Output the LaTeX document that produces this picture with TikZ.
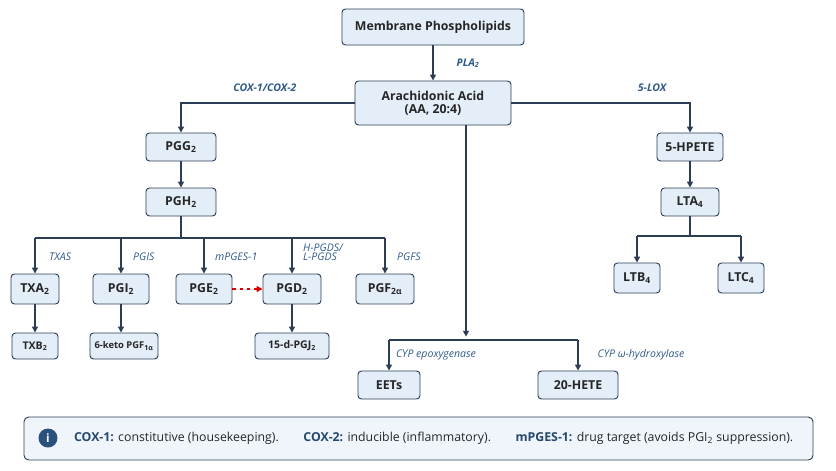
\documentclass[tikz,border=0pt]{standalone}
\usepackage{fontspec}
\setmainfont{Open Sans}
\usetikzlibrary{arrows.meta,positioning}
\definecolor{bfill}{HTML}{E4EEF8}
\definecolor{bdraw}{HTML}{2B3E55}
\definecolor{lab}{HTML}{2F5A8A}
\newcommand{\sbs}[1]{\textsubscript{#1}}
\begin{document}
\begin{tikzpicture}[x=0.03cm,y=-0.03cm,
 box/.style={draw=bdraw,fill=bfill,rounded corners=3pt,line width=0.8pt,font=\bfseries\fontsize{10.5}{12}\selectfont,text=black!85,align=center,inner sep=0pt},
 ar/.style={-{Triangle[length=5pt,width=5pt]},draw=bdraw,line width=1.3pt},
 ln/.style={draw=bdraw,line width=1.3pt},
 lb/.style={font=\itshape\small,text=lab,align=left},
 lbb/.style={lb,font=\itshape\bfseries\small}]
\useasboundingbox (0,0) rectangle (836,470);
\node[box,minimum width=182*0.03cm,minimum height=36*0.03cm] (mp) at (433,27) {Membrane Phospholipids};
\node[box,minimum width=156*0.03cm,minimum height=44*0.03cm] (aa) at (433,103) {Arachidonic Acid\\[-1pt](AA, 20:4)};
\node[box,minimum width=70*0.03cm,minimum height=28*0.03cm] (pgg) at (181,147) {PGG\sbs{2}};
\node[box,minimum width=70*0.03cm,minimum height=28*0.03cm] (pgh) at (181,202) {PGH\sbs{2}};
\node[box,minimum width=48*0.03cm,minimum height=30*0.03cm] (txa) at (35,289) {TXA\sbs{2}};
\node[box,minimum width=56*0.03cm,minimum height=30*0.03cm] (pgi) at (121,289) {PGI\sbs{2}};
\node[box,minimum width=56*0.03cm,minimum height=30*0.03cm] (pge) at (204,289) {PGE\sbs{2}};
\node[box,minimum width=58*0.03cm,minimum height=30*0.03cm] (pgd) at (292,289) {PGD\sbs{2}};
\node[box,minimum width=58*0.03cm,minimum height=30*0.03cm] (pgf) at (385,289) {PGF\sbs{2α}};
\node[box,minimum width=46*0.03cm,minimum height=26*0.03cm,font=\bfseries\small] (txb) at (35,346) {TXB\sbs{2}};
\node[box,minimum width=68*0.03cm,minimum height=26*0.03cm,font=\bfseries\footnotesize] (kpg) at (124,346) {6-keto PGF\sbs{1α}};
\node[box,minimum width=74*0.03cm,minimum height=26*0.03cm,font=\bfseries\small] (pgj) at (292,346) {15-d-PGJ\sbs{2}};
\node[box,minimum width=66*0.03cm,minimum height=28*0.03cm] (hp) at (690,147) {5-HPETE};
\node[box,minimum width=58*0.03cm,minimum height=28*0.03cm] (lta) at (690,202) {LTA\sbs{4}};
\node[box,minimum width=46*0.03cm,minimum height=30*0.03cm] (ltb) at (637,278) {LTB\sbs{4}};
\node[box,minimum width=46*0.03cm,minimum height=30*0.03cm] (ltc) at (741,278) {LTC\sbs{4}};
\node[box,minimum width=62*0.03cm,minimum height=28*0.03cm] (eet) at (389,385) {EETs};
\node[box,minimum width=80*0.03cm,minimum height=28*0.03cm] (hete) at (578,385) {20-HETE};
% connectors
\draw[ar] (mp) -- (aa);
\node[lbb] (lpla) at (468,63) {PLA\sbs{2}};
\draw[ar] (aa.west) -| (pgg.north);
\node[lbb] (lcox) at (265,88) {COX-1/COX-2};
\draw[ar] (aa.east) -| (hp.north);
\node[lbb] (llox) at (652,88) {5-LOX};
\draw[ar] (pgg) -- (pgh);
\coordinate (hb) at (181,238);
\draw[ln] (pgh.south) -- (hb);
\draw[ln] (txa.north |- hb) -- (pgf.north |- hb);
\foreach \n in {txa,pgi,pge,pgd,pgf} \draw[ar] (\n.north |- hb) -- (\n.north);
\node[lb,anchor=west] (l1) at (45,257) {TXAS};
\node[lb,anchor=west] (l2) at (129,257) {PGIS};
\node[lb,anchor=west] (l3) at (211,257) {mPGES-1};
\node[lb,anchor=west] (l4) at (299,252) {H-PGDS/\\[-3pt]L-PGDS};
\node[lb,anchor=west] (l5) at (393,257) {PGFS};
\draw[ar] (txa) -- (txb);
\draw[ar] (pgi.south) -- (pgi.south |- kpg.north);
\draw[ar] (pgd) -- (pgd |- pgj.north);
\draw[-{Triangle[length=5pt,width=5pt]},draw=red!85!black,fill=red!85!black,dashed,line width=1.2pt] (pge) -- (pgd);
\draw[ar] (hp) -- (lta);
\coordinate (lb2) at (690,236);
\draw[ln] (lta.south) -- (lb2);
\draw[ln] (ltb.north |- lb2) -- (ltc.north |- lb2);
\draw[ar] (ltb.north |- lb2) -- (ltb.north);
\draw[ar] (ltc.north |- lb2) -- (ltc.north);
\coordinate (cy) at (466,340);
\draw[ar] (aa.south -| cy) -- ([yshift=0.1cm]cy);
\draw[ln] (eet.north |- cy) -- (hete.north |- cy);
\draw[ar] (eet.north |- cy) -- (eet.north);
\draw[ar] (hete.north |- cy) -- (hete.north);
\node[lb] (lc1) at (436,355) {CYP epoxygenase};
\node[lb] (lc2) at (641,355) {CYP ω-hydroxylase};
% info
\node[draw=bdraw,fill=bfill!60,rounded corners=4pt,line width=0.8pt,minimum width=789*0.03cm,minimum height=43*0.03cm] (info) at (418.5,438.5) {};
\node[circle,fill=lab!90!black,text=white,font=\bfseries\normalsize,inner sep=0pt,minimum size=19*0.03cm] (ic) at (48,438) {i};
\node[anchor=west,font=\fontsize{10.5}{12}\selectfont,text=black!85] (it) at (70,438) {\textbf{\color{lab!80!black}COX-1:} constitutive (housekeeping).\qquad\textbf{\color{lab!80!black}COX-2:} inducible (inflammatory).\qquad\textbf{\color{lab!80!black}mPGES-1:} drug target (avoids PGI\sbs{2} suppression).};
\end{tikzpicture}
\end{document}
